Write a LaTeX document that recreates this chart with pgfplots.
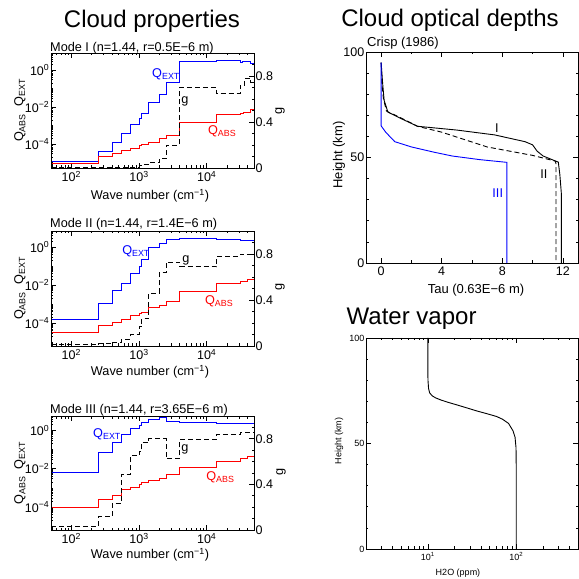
\documentclass[border=0pt]{standalone}
\usepackage{fontspec}
\setmainfont{Liberation Sans}
\usepackage{pgfplots}
\pgfplotsset{compat=1.18}
\definecolor{qblue}{RGB}{0,0,255}
\definecolor{qred}{RGB}{255,0,0}
\newcommand{\lf}{\fontsize{12.7}{14}\selectfont}
\pgfplotsset{every axis/.append style={scale only axis, tick align=inside,
   axis line style={line width=0.8pt},
   major tick style={black,line width=0.6pt}, minor tick style={black,line width=0.6pt},
   major tick length=5pt, minor tick length=2.5pt,
   tick label style={font=\fontsize{12.5}{13}\selectfont},
   yticklabel style={inner xsep=1.5pt}}}
\begin{document}
\begin{tikzpicture}[x=1pt,y=1pt]
\path[use as bounding box] (0,0) rectangle (579,579);

% ---------- Panel 1 : Mode I
\begin{axis}[at={(51pt,411pt)}, anchor=south west, width=203pt, height=115pt,
   xmode=log, ymode=log, xmin=50, xmax=50000, ymin=5e-6, ymax=8.3,
   xtick={100,1000,10000},
   xticklabels={10\textsuperscript{2},10\textsuperscript{3},10\textsuperscript{4}},
   minor xtick={60,70,80,90,200,300,400,500,600,700,800,900,2000,3000,4000,5000,6000,7000,8000,9000,20000,30000,40000},
   ytick={1e-4,1e-2,1},
   yticklabels={10\textsuperscript{−4},10\textsuperscript{−2},10\textsuperscript{0}},
   minor ytick={2e-6,3e-6,4e-6,5e-6,6e-6,7e-6,8e-6,9e-6,1e-5,2e-5,3e-5,4e-5,5e-5,6e-5,7e-5,8e-5,9e-5,2e-4,3e-4,4e-4,5e-4,6e-4,7e-4,8e-4,9e-4,1e-3,2e-3,3e-3,4e-3,5e-3,6e-3,7e-3,8e-3,9e-3,2e-2,3e-2,4e-2,5e-2,6e-2,7e-2,8e-2,9e-2,1e-1,2e-1,3e-1,4e-1,5e-1,6e-1,7e-1,8e-1,9e-1,2,3,4,5,6,7,8,9},
   ytick pos=left, xtick pos=both]
\addplot[qblue, line width=0.9pt, const plot] coordinates {(50,1.10e-5)(250,4.07e-5)(400,1.23e-4)(550,3.89e-4)(750,1.10e-3)(1000,2.34e-3)(1100,4.57e-3)(1400,1.78e-2)(2000,5.01e-2)(2500,0.200)(4000,2.8)(14000,3.16)(31000,2.7)(34000,3.0)(45000,2.3)(50000,2.3)};
\addplot[qred, line width=0.9pt, const plot] coordinates {(50,9.3e-6)(250,2.19e-5)(400,3.02e-5)(550,4.37e-5)(750,6.03e-5)(1000,8.13e-5)(1100,9.55e-5)(1400,1.23e-4)(2000,2.09e-4)(2500,2.95e-4)(4000,1.38e-3)(14000,3.80e-3)(31000,4.47e-3)(35000,5.37e-3)(45000,7.6e-3)(50000,7.6e-3)};
\node[qblue, anchor=west, font=\lf, inner sep=0pt] at (rel axis cs:0.4975,0.817) {Q\textsubscript{EXT}};
\node[qred, anchor=west, font=\lf, inner sep=0pt] at (rel axis cs:0.773,0.322) {Q\textsubscript{ABS}};
\end{axis}
\begin{axis}[at={(51pt,411pt)}, anchor=south west, width=203pt, height=115pt,
   xmode=log, xmin=50, xmax=50000, ymin=0, ymax=1,
   xtick=\empty, ytick={0,0.4,0.8}, yticklabels={0,0.4,0.8},
   minor ytick={0.1,0.2,0.3,0.5,0.6,0.7,0.9},
   ytick pos=right, yticklabel pos=right]
\addplot[black, line width=0.9pt, const plot, dash pattern=on 5pt off 3pt] coordinates {(50,0.003)(750,0.008)(1000,0.02)(1100,0.03)(1400,0.045)(2000,0.08)(2500,0.20)(4000,0.70)(14000,0.645)(31000,0.72)(36000,0.78)(45000,0.745)(50000,0.745)};
\node[font=\lf, inner sep=0pt] at (rel axis cs:0.66,0.583) {g};
\end{axis}

% ---------- Panel 2 : Mode II
\begin{axis}[at={(51pt,233pt)}, anchor=south west, width=203pt, height=115pt,
   xmode=log, ymode=log, xmin=50, xmax=50000, ymin=6.3e-6, ymax=6.9,
   xtick={100,1000,10000},
   xticklabels={10\textsuperscript{2},10\textsuperscript{3},10\textsuperscript{4}},
   minor xtick={60,70,80,90,200,300,400,500,600,700,800,900,2000,3000,4000,5000,6000,7000,8000,9000,20000,30000,40000},
   ytick={1e-4,1e-2,1},
   yticklabels={10\textsuperscript{−4},10\textsuperscript{−2},10\textsuperscript{0}},
   minor ytick={2e-6,3e-6,4e-6,5e-6,6e-6,7e-6,8e-6,9e-6,1e-5,2e-5,3e-5,4e-5,5e-5,6e-5,7e-5,8e-5,9e-5,2e-4,3e-4,4e-4,5e-4,6e-4,7e-4,8e-4,9e-4,1e-3,2e-3,3e-3,4e-3,5e-3,6e-3,7e-3,8e-3,9e-3,2e-2,3e-2,4e-2,5e-2,6e-2,7e-2,8e-2,9e-2,1e-1,2e-1,3e-1,4e-1,5e-1,6e-1,7e-1,8e-1,9e-1,2,3,4,5,6,7,8,9},
   ytick pos=left, xtick pos=both]
\addplot[qblue, line width=0.9pt, const plot] coordinates {(50,1.58e-4)(250,1.12e-3)(400,5.01e-3)(550,1.26e-2)(750,3.98e-2)(1000,0.1)(1100,0.224)(1400,0.891)(2000,1.58)(2500,2.63)(4000,2.75)(14000,2.34)(31000,2.09)(50000,2.09)};
\addplot[qred, line width=0.9pt, const plot] coordinates {(50,3.39e-5)(250,7.59e-5)(400,1.05e-4)(550,1.55e-4)(750,2.51e-4)(1000,3.24e-4)(1100,3.80e-4)(1400,6.46e-4)(2000,8.91e-4)(2500,1.45e-3)(4000,4.79e-3)(14000,1.23e-2)(31000,1.58e-2)(40000,2.0e-2)(50000,2.0e-2)};
\node[qblue, anchor=west, font=\lf, inner sep=0pt] at (rel axis cs:0.35,0.826) {Q\textsubscript{EXT}};
\node[qred, anchor=west, font=\lf, inner sep=0pt] at (rel axis cs:0.758,0.391) {Q\textsubscript{ABS}};
\end{axis}
\begin{axis}[at={(51pt,233pt)}, anchor=south west, width=203pt, height=115pt,
   xmode=log, xmin=50, xmax=50000, ymin=0, ymax=1,
   xtick=\empty, ytick={0,0.4,0.8}, yticklabels={0,0.4,0.8},
   minor ytick={0.1,0.2,0.3,0.5,0.6,0.7,0.9},
   ytick pos=right, yticklabel pos=right]
\addplot[black, line width=0.9pt, const plot, dash pattern=on 5pt off 3pt] coordinates {(50,0.01)(250,0.02)(400,0.035)(550,0.06)(750,0.1)(1000,0.17)(1100,0.24)(1400,0.46)(2000,0.64)(2500,0.73)(4000,0.69)(14000,0.78)(31000,0.80)(50000,0.80)};
\node[font=\lf, inner sep=0pt] at (rel axis cs:0.665,0.748) {g};
\end{axis}

% ---------- Panel 3 : Mode III
\begin{axis}[at={(51pt,49pt)}, anchor=south west, width=203pt, height=114pt,
   xmode=log, ymode=log, xmin=50, xmax=50000, ymin=6.3e-6, ymax=5.6,
   xtick={100,1000,10000},
   xticklabels={10\textsuperscript{2},10\textsuperscript{3},10\textsuperscript{4}},
   minor xtick={60,70,80,90,200,300,400,500,600,700,800,900,2000,3000,4000,5000,6000,7000,8000,9000,20000,30000,40000},
   ytick={1e-4,1e-2,1},
   yticklabels={10\textsuperscript{−4},10\textsuperscript{−2},10\textsuperscript{0}},
   minor ytick={2e-6,3e-6,4e-6,5e-6,6e-6,7e-6,8e-6,9e-6,1e-5,2e-5,3e-5,4e-5,5e-5,6e-5,7e-5,8e-5,9e-5,2e-4,3e-4,4e-4,5e-4,6e-4,7e-4,8e-4,9e-4,1e-3,2e-3,3e-3,4e-3,5e-3,6e-3,7e-3,8e-3,9e-3,2e-2,3e-2,4e-2,5e-2,6e-2,7e-2,8e-2,9e-2,1e-1,2e-1,3e-1,4e-1,5e-1,6e-1,7e-1,8e-1,9e-1,2,3,4,5,6,7,8,9},
   ytick pos=left, xtick pos=both]
\addplot[qblue, line width=0.9pt, const plot] coordinates {(50,6.03e-3)(250,6.92e-2)(400,0.224)(550,0.603)(750,1.32)(1000,1.91)(1100,2.69)(1400,3.80)(2000,4.57)(2500,2.95)(4000,2.63)(14000,2.24)(50000,2.24)};
\addplot[qred, line width=0.9pt, const plot] coordinates {(50,9.33e-5)(250,2.40e-4)(400,4.07e-4)(550,7.94e-4)(750,1.10e-3)(1000,1.45e-3)(1100,1.82e-3)(1400,2.34e-3)(2000,3.24e-3)(2500,4.79e-3)(4000,1.20e-2)(14000,2.45e-2)(31000,3.55e-2)(40000,4.47e-2)(50000,4.47e-2)};
\node[qblue, anchor=west, font=\lf, inner sep=0pt] at (rel axis cs:0.207,0.842) {Q\textsubscript{EXT}};
\node[qred, anchor=west, font=\lf, inner sep=0pt] at (rel axis cs:0.764,0.465) {Q\textsubscript{ABS}};
\end{axis}
\begin{axis}[at={(51pt,49pt)}, anchor=south west, width=203pt, height=114pt,
   xmode=log, xmin=50, xmax=50000, ymin=0, ymax=1,
   xtick=\empty, ytick={0,0.4,0.8}, yticklabels={0,0.4,0.8},
   minor ytick={0.1,0.2,0.3,0.5,0.6,0.7,0.9},
   ytick pos=right, yticklabel pos=right]
\addplot[black, line width=0.9pt, const plot, dash pattern=on 5pt off 3pt] coordinates {(50,0.03)(250,0.115)(400,0.235)(550,0.49)(750,0.65)(1000,0.69)(1100,0.77)(1400,0.80)(2500,0.625)(4000,0.79)(14000,0.84)(31000,0.855)(50000,0.855)};
\node[font=\lf, inner sep=0pt] at (rel axis cs:0.66,0.71) {g};
\end{axis}

% ---------- Cloud optical depths
\begin{axis}[at={(366pt,316pt)}, anchor=south west, width=212pt, height=211pt,
  xmin=-1, xmax=13, ymin=0, ymax=100,
  xtick={0,4,8,12}, xticklabels={0,4,8,12}, minor xtick={2,6,10},
  ytick={0,50,100}, yticklabels={0,50,100}, minor ytick={10,20,30,40,60,70,80,90}]
\addplot[black, line width=0.9pt] coordinates {(0,95)(0.1,85)(0.2,77)(0.45,71.5)(1.3,68.5)(2.4,64.8)(5,63)(7.5,60.7)(9.5,57.5)(10,56)(10.3,53)(10.7,50.7)(11.7,47.8)(11.8,42)(11.9,33)(11.9,0)};
\addplot[black, line width=0.9pt, dash pattern=on 5pt off 3pt] coordinates {(0,95)(0.05,85)(0.15,78)(0.35,72)(1.3,68.8)(2.4,64.8)(4,62)(5.5,58.5)(7,55)(8.5,53)(10,51)(11.5,48.3)(11.55,47)(11.55,0)};
\addplot[qblue, line width=0.9pt] coordinates {(0,95)(0,65)(0.3,62)(0.9,57.5)(2,55)(3.5,52.5)(4.7,50.7)(6.5,49)(8.3,47.7)(8.3,0)};
\node[font=\lf] at (axis cs:7.65,63.7) {I};
\node[font=\lf] at (axis cs:10.75,42.3) {II};
\node[qblue, font=\lf] at (axis cs:7.7,33.2) {III};
\end{axis}

% ---------- Water vapor
\begin{axis}[at={(366pt,30pt)}, anchor=south west, width=212pt, height=211pt,
  xmode=log, xmin=2, xmax=500, ymin=0, ymax=100,
  tick label style={font=\fontsize{9}{10}\selectfont},
  xtick={10,100}, xticklabels={10\textsuperscript{1},10\textsuperscript{2}},
  minor xtick={3,4,5,6,7,8,9,20,30,40,50,60,70,80,90,200,300,400},
  ytick={0,50,100}, yticklabels={0,50,100}, minor ytick={10,20,30,40,60,70,80,90}]
\addplot[black, line width=0.9pt] coordinates {(100,0)(100,40)(99.5,48)(97,53)(92,56)(82,59.5)(70,61.5)(60,62.8)(45,64.3)(36,65.4)(28,66.8)(21.7,68.2)(17,69.5)(14.1,70.6)(12.3,71.6)(11.2,72.6)(10.5,74)(10.2,76)(10.05,80)(10,85)(10,100)};
\end{axis}

% ---------- titles and labels
\node[anchor=base, font=\fontsize{24}{26}\selectfont] at (152,551) {Cloud properties};
\node[anchor=base, font=\fontsize{24}{26}\selectfont] at (450,552) {Cloud optical depths};
\node[anchor=base west, font=\fontsize{24}{26}\selectfont, inner sep=0pt] at (346.5,254) {Water vapor};

\node[anchor=base west, font=\lf, inner sep=0pt] at (50,527) {Mode I (n=1.44, r=0.5E−6 m)};
\node[anchor=base west, font=\lf, inner sep=0pt] at (50,351) {Mode II (n=1.44, r=1.4E−6 m)};
\node[anchor=base west, font=\lf, inner sep=0pt] at (50,165) {Mode III (n=1.44, r=3.65E−6 m)};
\node[anchor=base west, font=\fontsize{13}{14}\selectfont, inner sep=0pt] at (367,532.5) {Crisp (1986)};

\node[anchor=base, font=\lf] at (150,379) {Wave number (cm\textsuperscript{−1})};
\node[anchor=base, font=\lf] at (150,203) {Wave number (cm\textsuperscript{−1})};
\node[anchor=base, font=\lf] at (150,20) {Wave number (cm\textsuperscript{−1})};

\node[rotate=90, font=\lf] at (20,468.5) {Q\textsubscript{ABS}\ \ Q\textsubscript{EXT}};
\node[rotate=90, font=\lf] at (20,290.5) {Q\textsubscript{ABS}\ \ Q\textsubscript{EXT}};
\node[rotate=90, font=\lf] at (20,106) {Q\textsubscript{ABS}\ \ Q\textsubscript{EXT}};
\node[rotate=90, font=\lf] at (280,468) {g};
\node[rotate=90, font=\lf] at (280,292) {g};
\node[rotate=90, font=\lf] at (281,107) {g};

\node[anchor=base, font=\fontsize{13}{14}\selectfont] at (476,285) {Tau (0.63E−6 m)};
\node[rotate=90, font=\fontsize{13}{14}\selectfont] at (339,424) {Height (km)};
\node[anchor=base, font=\fontsize{9}{10}\selectfont] at (458,3.5) {H2O (ppm)};
\node[rotate=90, font=\fontsize{9}{10}\selectfont] at (339,138) {Height (km)};
\end{tikzpicture}
\end{document}
